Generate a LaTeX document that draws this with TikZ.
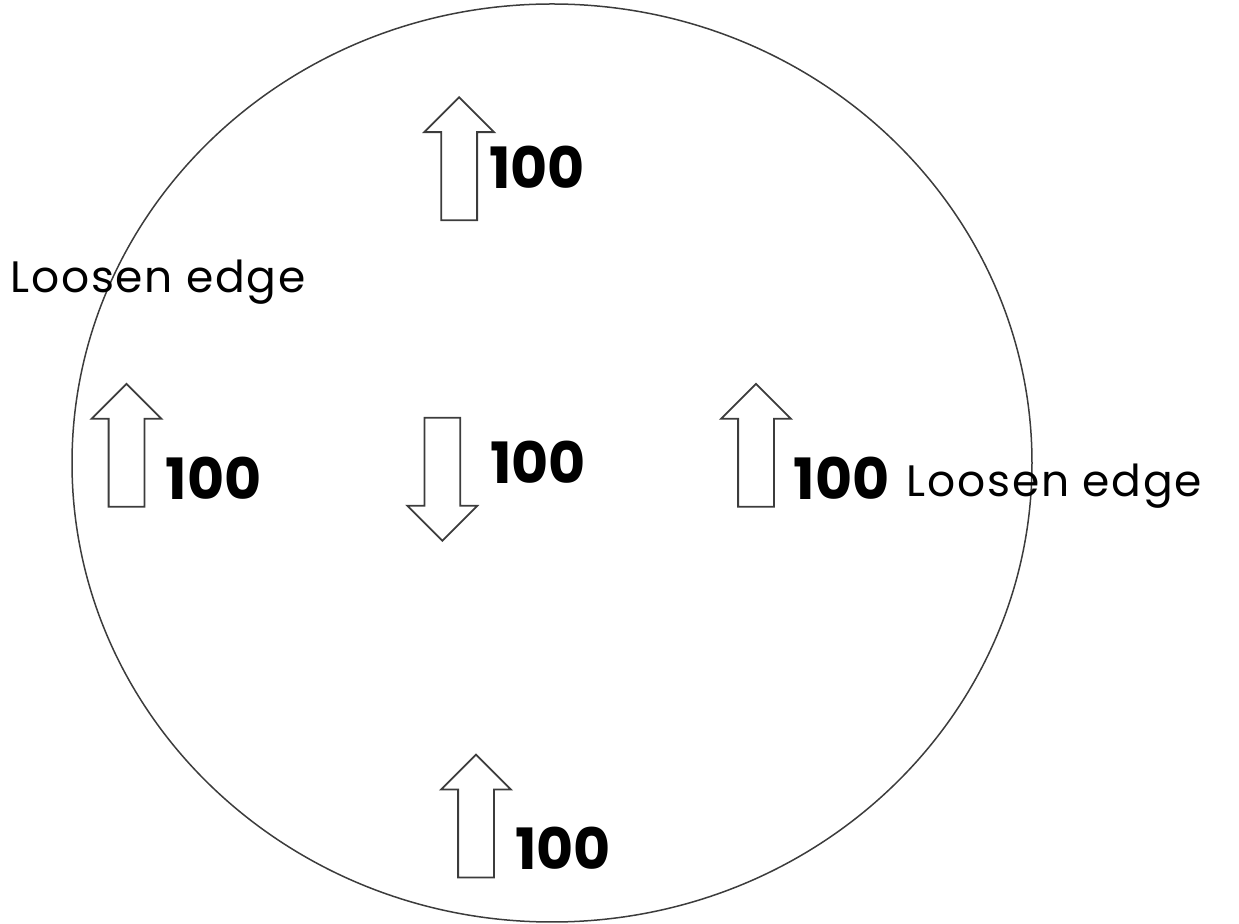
\documentclass[tikz,border=0pt]{standalone}
\usepackage{fontspec}
\setmainfont{Poppins}
\usepackage{tikz}
\usetikzlibrary{shapes.geometric, shapes.arrows}
\definecolor{outline}{HTML}{3C3C3C}

\tikzset{
  blockarrow/.style={single arrow, draw=outline, line width=0.9pt,
    inner xsep=0pt, inner ysep=8.5pt, minimum height=61.5pt,
    single arrow head extend=8.5pt, single arrow tip angle=90},
  amount/.style={anchor=base west, inner sep=0pt,
    font=\fontsize{28.5}{34}\selectfont\bfseries},
  edgelabel/.style={anchor=base west, inner sep=0pt,
    font=\fontsize{22}{26}\selectfont\addfontfeatures{LetterSpace=4}}
}

\begin{document}
\begin{tikzpicture}[x=0.5pt, y=-0.5pt]
    \useasboundingbox (0,0) rectangle (1239,924);
    % the dish
    \node[draw=outline, line width=0.75pt, ellipse, inner sep=0pt,
          minimum width=480pt, minimum height=459pt] (dish) at (552,463) {};

    % pulls
    \node[blockarrow, rotate=90] (pulltop) at (459.2,167.7) {};
    \node[blockarrow, rotate=90] (pullleft) at (126.5,454.3) {};
    \node[blockarrow, rotate=-90] (pullmid) at (442.3,470.3) {};
    \node[blockarrow, rotate=90] (pullright) at (756,454.3) {};
    \node[blockarrow, rotate=90] (pullbottom) at (476,825) {};

    \node[amount] (amttop) at (489,188.3) {100};
    \node[amount] (amtleft) at (165.5,499.3) {100};
    \node[amount] (amtmid) at (490,483.3) {100};
    \node[amount] (amtright) at (793.3,499.3) {100};
    \node[amount] (amtbottom) at (515,870) {100};

    \node[edgelabel] (looseleft) at (10,292.7) {Loosen edge};
    \node[edgelabel] (looseright) at (906.5,496.7) {Loosen edge};
  \end{tikzpicture}
\end{document}
